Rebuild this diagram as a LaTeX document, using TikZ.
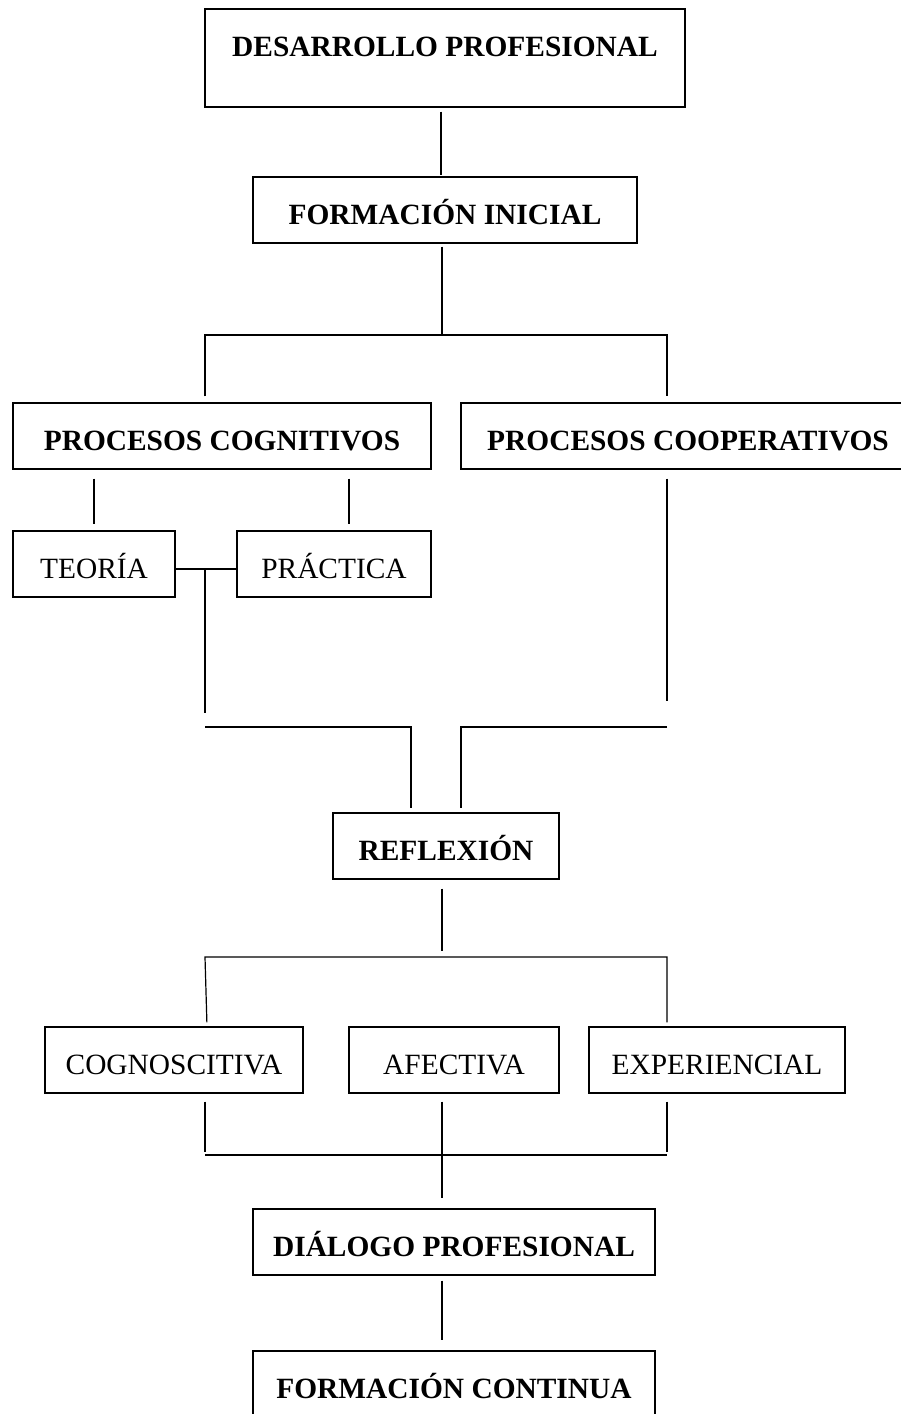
\documentclass[tikz,border=0pt]{standalone}
\usepackage{fontspec}
\setmainfont{Liberation Serif}
\usepackage{tikz}

\begin{document}
\begin{tikzpicture}[%
    x=1pt,
    y=-1pt,
    principal/.style={%
      rectangle,
      draw,
      line width=1.4pt,
      inner sep=0pt,
      minimum height=66pt,
      text height=47.5pt,
      text depth=18.5pt,
      font=\fontsize{29.4}{34}\selectfont\bfseries
    },
    secundario/.style={%
      principal,
      font=\fontsize{29.4}{34}\selectfont
    },
    linea/.style={%
      line width=1.2pt
    }
  ]
    \useasboundingbox (0,0) rectangle (901,1414);

    % cajas
    \node[principal, minimum width=480pt, text height=47.7pt, text depth=50.3pt]
          (dp)   at (445,58)   {DESARROLLO PROFESIONAL};
    \node[principal, minimum width=384pt]  (fi)    at (445,210)  {FORMACIÓN INICIAL};
    \node[principal, minimum width=418pt]  (pcog)  at (222,436)  {PROCESOS COGNITIVOS};
    \node[principal, minimum width=454pt]  (pcoop) at (688,436)  {PROCESOS COOPERATIVOS};
    \node[secundario, minimum width=162pt] (teo)   at (94,564)   {TEORÍA};
    \node[secundario, minimum width=194pt] (pra)   at (334,564)  {PRÁCTICA};
    \node[principal, minimum width=226pt]  (ref)   at (446,846)  {REFLEXIÓN};
    \node[secundario, minimum width=258pt] (cogn)  at (174,1060) {COGNOSCITIVA};
    \node[secundario, minimum width=210pt] (afe)   at (454,1060) {AFECTIVA};
    \node[secundario, minimum width=256pt] (exp)   at (717,1060) {EXPERIENCIAL};
    \node[principal, minimum width=402pt]  (dia)   at (454,1242) {DIÁLOGO PROFESIONAL};
    \node[principal, minimum width=402pt]  (fc)    at (454,1384) {FORMACIÓN CONTINUA};

    % puntos de las llaves
    \coordinate (eje) at (442,0);
    \coordinate (r1)  at (205,335);
    \coordinate (r2)  at (667,335);
    \coordinate (p1)  at (349,0);
    \coordinate (tp)  at (205,569);
    \coordinate (t1)  at (205,713);
    \coordinate (t2)  at (667,701);
    \coordinate (u1)  at (205,727);
    \coordinate (u2)  at (411,727);
    \coordinate (u3)  at (667,727);
    \coordinate (u4)  at (461,727);
    \coordinate (m0)  at (442,951);
    \coordinate (s1)  at (205,957);
    \coordinate (s2)  at (667,957);
    \coordinate (q1)  at (207,0);
    \coordinate (v1)  at (205,1152);
    \coordinate (v2)  at (667,1152);
    \coordinate (h1)  at (205,1155);
    \coordinate (h2)  at (667,1155);

    \draw[linea, shorten <=4pt, shorten >=1pt] (dp.south -| 441,0) -- (fi.north -| 441,0);
    \draw[linea, shorten <=3pt] (fi.south -| eje) -- (eje |- r1);
    \draw[linea, shorten <=6pt, shorten >=6pt] (pcog.north -| r1) -- (r1) -- (r2) -- (pcoop.north -| r2);

    \draw[linea, shorten <=9pt, shorten >=6pt] (pcog.south -| teo) -- (teo);
    \draw[linea, shorten <=9pt, shorten >=6pt] (pcog.south -| p1) -- (pra.north -| p1);
    \draw[linea] (teo.east |- tp) -- (pra.west |- tp);
    \draw[linea] (tp) -- (t1);
    \draw[linea, shorten <=9pt] (pcoop.south -| r2) -- (t2);

    \draw[linea, shorten >=4pt] (u1) -- (u2) -- (ref.north -| u2);
    \draw[linea, shorten >=4pt] (u3) -- (u4) -- (ref.north -| u4);

    \draw[linea, shorten <=9pt] (ref.south -| eje) -- (m0);
    \draw[linea, shorten <=4pt, shorten >=4pt] (cogn.north -| q1) -- (s1) -- (s2) -- (exp.north -| s2);

    \draw[linea, shorten <=8pt] (cogn.south -| v1) -- (v1);
    \draw[linea, shorten <=8pt] (exp.south -| v2) -- (v2);
    \draw[linea] (h1) -- (h2);
    \draw[linea, shorten <=8pt, shorten >=10pt] (afe.south -| eje) -- (dia.north -| eje);
    \draw[linea, shorten <=5pt, shorten >=10pt] (dia.south -| eje) -- (fc.north -| eje);
  \end{tikzpicture}
\end{document}
